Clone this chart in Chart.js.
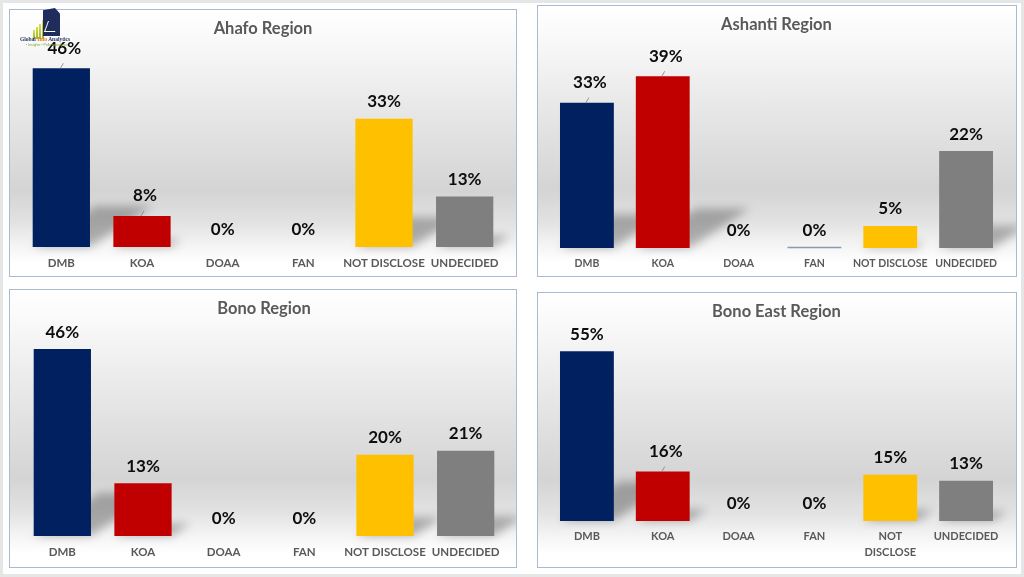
<!DOCTYPE html>
<html>
<head>
<meta charset="utf-8">
<script src="https://cdn.jsdelivr.net/npm/chart.js@4.4.1/dist/chart.umd.min.js"></script>
<style>
    html, body { margin: 0; padding: 0; }
    body { width: 1024px; height: 577px; position: relative; background: #fff; overflow: hidden; font-family: Lato, sans-serif; }
    #frame { position: absolute; left: 0; top: 0; width: 1024px; height: 577px; box-sizing: border-box; border: 3px solid #e6e6e6; }
    .panel {
        position: absolute; box-sizing: border-box; border: 1px solid #a9bbd3;
        background: linear-gradient(to bottom, #ffffff 0%, #fafafa 10%, #e6e6e6 40%, #d4d4d4 68%, #e2e2e2 80%, #f3f3f3 88%, #ffffff 95%);
    }
    .panel canvas { display: block; }
    #logo { position: absolute; left: 18px; top: 6px; width: 64px; height: 42px; z-index: 5; }
    #logo .bar { position: absolute; bottom: 9px; width: 2px; background: linear-gradient(to top, #9cb520, #d7e04a); }
    #logo .sheet { position: absolute; left: 25px; top: 2px; width: 17px; height: 28px; background: #1f2d5c;
        clip-path: polygon(0 8%, 70% 0, 100% 20%, 100% 100%, 0 100%); }
    #logo .tick { position: absolute; left: 28px; top: 15px; width: 10px; height: 10px;
        border-left: 1px solid #fff; border-bottom: 1px solid #fff; transform: skewX(-20deg); }
    #logo .name { position: absolute; left: 2px; top: 30px; font: bold 5.5px "Liberation Serif", serif; color: #1f2d5c; white-space: nowrap; }
    #logo .name span { color: #e07b20; }
    #logo .sub { position: absolute; left: 8px; top: 37px; font: 3.5px "Liberation Sans", sans-serif; color: #7aa62a; white-space: nowrap; }
</style>
</head>
<body>
<div id="frame"></div>

<div class="panel" style="left:9px; top:9px; width:508px; height:268px;"><canvas id="ahafo"></canvas></div>
<div class="panel" style="left:537px; top:5px; width:480px; height:272px;"><canvas id="ashanti"></canvas></div>
<div class="panel" style="left:9px; top:289px; width:508px; height:279px;"><canvas id="bono"></canvas></div>
<div class="panel" style="left:537px; top:292px; width:480px; height:276px;"><canvas id="bonoEast"></canvas></div>

<div id="logo">
    <div class="bar" style="left:15px; height:9px;"></div>
    <div class="bar" style="left:18px; height:12px;"></div>
    <div class="bar" style="left:21px; height:15px;"></div>
    <div class="bar" style="left:24px; height:19px;"></div>
    <div class="sheet"></div>
    <div class="tick"></div>
    <div class="name">Global <span>Info</span> Analytics</div>
    <div class="sub">• Insights • Polls • Analytics</div>
</div>

<script>
// Candidates / categories shown on every panel
const categories = ['DMB', 'KOA', 'DOAA', 'FAN', 'NOT DISCLOSE', 'UNDECIDED'];

// Percentages per region
const ahafoValues = [46, 8, 0, 0, 33, 13];
const ashantiValues = [33, 39, 0, 0, 5, 22];
const bonoValues = [46, 13, 0, 0, 20, 21];
const bonoEastValues = [55, 16, 0, 0, 15, 13];

const barColors = ['#002060', '#C00000', '#7F7F7F', '#7F7F7F', '#FFC000', '#7F7F7F'];

// Soft perspective shadow behind each bar (drawn from the bar elements)
const barShadows = {
    id: 'barShadows',
    beforeDatasetsDraw(chart) {
        const ctx = chart.ctx;
        const meta = chart.getDatasetMeta(0);
        ctx.save();
        ctx.filter = 'blur(5px)';
        ctx.fillStyle = 'rgba(0,0,0,0.28)';
        meta.data.forEach(bar => {
            const h = bar.base - bar.y;
            if (h <= 0) return;
            const w = bar.width / 2;
            const dx = h * 0.35, dy = h * 0.23;
            ctx.beginPath();
            ctx.moveTo(bar.x - w, bar.base);
            ctx.lineTo(bar.x + w, bar.base);
            ctx.lineTo(bar.x + w + dx, bar.base - dy);
            ctx.lineTo(bar.x - w + dx, bar.base - dy);
            ctx.closePath();
            ctx.fill();
        });
        ctx.restore();
    }
};

// Percentage labels above the bars
const valueLabels = {
    id: 'valueLabels',
    afterDatasetsDraw(chart, args, opts) {
        const ctx = chart.ctx;
        const meta = chart.getDatasetMeta(0);
        const values = chart.data.datasets[0].data;
        const leaders = opts.leaders || [];
        const zeroLines = opts.zeroLines || [];
        ctx.save();
        meta.data.forEach((bar, i) => {
            const name = categories[i];
            const lead = leaders.includes(name);
            if (zeroLines.includes(name)) {
                ctx.strokeStyle = '#8c9ab0';
                ctx.lineWidth = 1.5;
                ctx.beginPath();
                ctx.moveTo(bar.x - bar.width / 2, bar.base - 0.5);
                ctx.lineTo(bar.x + bar.width / 2, bar.base - 0.5);
                ctx.stroke();
            }
            if (lead) {
                ctx.strokeStyle = '#7f7f7f';
                ctx.lineWidth = 0.8;
                ctx.beginPath();
                ctx.moveTo(bar.x - 1, bar.y);
                ctx.lineTo(bar.x + 2, bar.y - 5);
                ctx.stroke();
            }
            ctx.font = 'bold 17px Lato';
            ctx.fillStyle = '#0d0d0d';
            ctx.textAlign = 'center';
            ctx.textBaseline = 'middle';
            ctx.fillText(values[i] + '%', bar.x + (lead ? 3 : 0), bar.y - (lead ? 20 : 17));
        });
        ctx.restore();
    }
};

function makeRegionChart(id, title, values, opts) {
    const ctx = document.getElementById(id).getContext('2d');
    return new Chart(ctx, {
        type: 'bar',
        data: {
            labels: opts.labels || categories,
            datasets: [{
                data: values,
                backgroundColor: barColors,
                borderWidth: 0,
                categoryPercentage: 1,
                barPercentage: 0.71
            }]
        },
        options: {
            responsive: true,
            maintainAspectRatio: false,
            animation: false,
            layout: { padding: { left: opts.left, right: opts.right, top: 0, bottom: 0 } },
            plugins: {
                legend: { display: false },
                tooltip: { enabled: false },
                title: {
                    display: true,
                    text: title,
                    color: '#595959',
                    font: { family: 'Lato', size: 16.5, weight: 'bold' },
                    padding: { top: 9, bottom: opts.titleGap }
                },
                valueLabels: { leaders: opts.leaders, zeroLines: opts.zeroLines }
            },
            scales: {
                x: {
                    grid: { display: false, drawTicks: false },
                    border: { display: false },
                    ticks: {
                        color: '#595959',
                        padding: 8,
                        maxRotation: 0,
                        autoSkip: false,
                        font: { family: 'Lato', size: opts.labelSize, weight: 'bold', lineHeight: 1.4 }
                    },
                    afterFit: scale => { scale.height = opts.axisHeight; }
                },
                y: { display: false, min: 0, max: opts.max }
            }
        },
        plugins: [barShadows, valueLabels]
    });
}

makeRegionChart('ahafo', 'Ahafo Region', ahafoValues,
    { left: 11, right: 11, titleGap: 14, axisHeight: 29, max: 50, labelSize: 11.5, leaders: ['DMB', 'KOA'] });
makeRegionChart('ashanti', 'Ashanti Region', ashantiValues,
    { left: 11, right: 12, titleGap: 15, axisHeight: 28, max: 45, labelSize: 10.5, leaders: ['DMB', 'KOA'], zeroLines: ['FAN'] });
makeRegionChart('bono', 'Bono Region', bonoValues,
    { left: 12, right: 10, titleGap: 14, axisHeight: 31, max: 50, labelSize: 11.5 });
makeRegionChart('bonoEast', 'Bono East Region', bonoEastValues,
    { left: 11, right: 12, titleGap: 14, axisHeight: 46, max: 60, labelSize: 11, leaders: ['KOA'],
      labels: ['DMB', 'KOA', 'DOAA', 'FAN', ['NOT', 'DISCLOSE'], 'UNDECIDED'] });
</script>
</body>
</html>
